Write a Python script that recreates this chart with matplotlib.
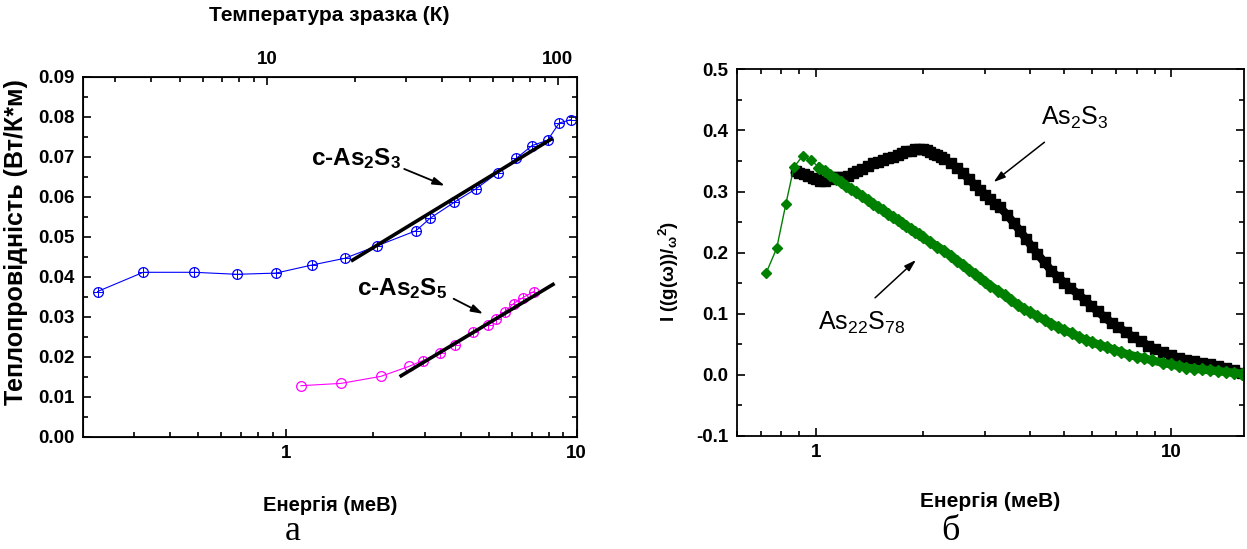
import numpy as np
import matplotlib.pyplot as plt
from matplotlib.ticker import FixedLocator, FormatStrFormatter, NullFormatter

# left panel: thermal conductivity vs energy (top axis = temperature)
e_as2s3 = [0.225, 0.323, 0.483, 0.679, 0.924, 1.225, 1.594, 2.057, 2.802, 3.13,
           3.79, 4.51, 5.36, 6.20, 7.03, 7.94, 8.70, 9.59]
k_as2s3 = [0.0363, 0.0411, 0.0411, 0.0406, 0.0409, 0.0429, 0.0446, 0.0477, 0.0515, 0.0546,
           0.0586, 0.0620, 0.0660, 0.0696, 0.0728, 0.0741, 0.0784, 0.0793]
e_as2s5 = [1.126, 1.547, 2.12, 2.65, 2.95, 3.40, 3.82, 4.41, 4.95, 5.29, 5.66, 6.07, 6.54, 7.12]
k_as2s5 = [0.01275, 0.01333, 0.01508, 0.01758, 0.0190, 0.0210, 0.0229, 0.0263, 0.0280,
           0.0295, 0.0313, 0.0333, 0.0348, 0.0363]
fit_as2s3_e = [1.674, 8.26]
fit_as2s3_k = [0.0439, 0.0746]
fit_as2s5_e = [2.46, 8.39]
fit_as2s5_k = [0.0150, 0.0383]
kB = 0.08617  # meV/K

# right panel: g(w)/w^2
e_blk = [0.88, 0.90, 0.93, 0.95, 0.98, 1.00, 1.03, 1.06, 1.09, 1.12, 1.15, 1.19, 1.23, 1.27,
         1.31, 1.35, 1.40, 1.45, 1.50, 1.55, 1.60, 1.65, 1.70, 1.75, 1.80, 1.85, 1.90, 1.95,
         2.00, 2.05, 2.10, 2.15, 2.20, 2.25, 2.30, 2.40, 2.50, 2.60, 2.70, 2.80, 2.90, 3.00,
         3.10, 3.20, 3.30, 3.45, 3.60, 3.75, 3.90, 4.05, 4.20, 4.40, 4.60, 4.80, 5.00, 5.20,
         5.45, 5.70, 5.95, 6.20, 6.50, 6.80, 7.10, 7.45, 7.80, 8.20, 8.60, 9.00, 9.50, 10.0,
         10.5, 11.0, 11.6, 12.2, 12.8, 13.5, 14.2, 15.0, 15.8]
g_blk = [0.333, 0.330, 0.328, 0.325, 0.322, 0.320, 0.318, 0.318, 0.321, 0.323, 0.324, 0.324,
         0.326, 0.330, 0.334, 0.337, 0.342, 0.346, 0.349, 0.352, 0.355, 0.357, 0.360, 0.363,
         0.366, 0.367, 0.369, 0.370, 0.369, 0.368, 0.365, 0.362, 0.359, 0.356, 0.353, 0.346,
         0.339, 0.330, 0.320, 0.311, 0.303, 0.295, 0.287, 0.280, 0.274, 0.262, 0.249, 0.236,
         0.223, 0.210, 0.198, 0.184, 0.170, 0.160, 0.151, 0.142, 0.133, 0.123, 0.113, 0.104,
         0.094, 0.085, 0.078, 0.070, 0.062, 0.055, 0.048, 0.043, 0.037, 0.032, 0.028, 0.025,
         0.022, 0.020, 0.018, 0.015, 0.012, 0.008, 0.003]
e_grn = [0.725, 0.777, 0.825, 0.869, 0.919, 0.968, 1.024, 1.06, 1.10, 1.14, 1.18, 1.22, 1.26,
         1.30, 1.35, 1.40, 1.45, 1.50, 1.55, 1.60, 1.65, 1.70, 1.75, 1.80, 1.85, 1.90, 1.95,
         2.00, 2.10, 2.20, 2.30, 2.40, 2.50, 2.60, 2.70, 2.80, 2.90, 3.00, 3.10, 3.25, 3.40,
         3.55, 3.70, 3.85, 4.00, 4.20, 4.40, 4.60, 4.80, 5.00, 5.25, 5.50, 5.75, 6.00, 6.30,
         6.60, 6.90, 7.20, 7.60, 8.00, 8.40, 8.80, 9.50, 10.0, 10.5, 11.0, 11.6, 12.2, 12.8,
         13.5, 14.2, 15.0, 15.8]
g_grn = [0.166, 0.207, 0.280, 0.340, 0.358, 0.352, 0.339, 0.333, 0.327, 0.321, 0.315, 0.309,
         0.304, 0.299, 0.292, 0.286, 0.280, 0.274, 0.269, 0.263, 0.258, 0.253, 0.248, 0.243,
         0.239, 0.234, 0.230, 0.225, 0.217, 0.210, 0.203, 0.195, 0.187, 0.180, 0.172, 0.165,
         0.159, 0.152, 0.146, 0.138, 0.130, 0.122, 0.115, 0.108, 0.103, 0.096, 0.090, 0.084,
         0.078, 0.073, 0.068, 0.062, 0.057, 0.053, 0.049, 0.045, 0.041, 0.037, 0.033, 0.030,
         0.027, 0.024, 0.0195, 0.017, 0.0145, 0.012, 0.010, 0.009, 0.0076, 0.0062, 0.0048,
         0.0034, 0.002]

plt.rcParams['font.family'] = ['Liberation Sans', 'DejaVu Sans']
plt.rcParams['font.weight'] = 'bold'
plt.rcParams['axes.labelweight'] = 'bold'
plt.rcParams['mathtext.fontset'] = 'custom'
plt.rcParams['mathtext.default'] = 'regular'
plt.rcParams['mathtext.rm'] = 'Liberation Sans:weight=normal'
plt.rcParams['mathtext.it'] = 'Liberation Sans:italic:weight=normal'
plt.rcParams['mathtext.bf'] = 'Liberation Sans:bold'

W, H = 1247, 549
fig = plt.figure(figsize=(W / 100, H / 100), dpi=100)
ax1 = fig.add_axes([82.7 / W, 1 - 436.7 / H, (576.7 - 82.7) / W, 360 / H])
ax2 = fig.add_axes([736.7 / W, 1 - 436 / H, (1244 - 736.7) / W, 366.7 / H])

tfont = 13.5
for ax in (ax1, ax2):
    for sp in ax.spines.values():
        sp.set_linewidth(1.3)
    ax.set_xscale('log')
    ax.tick_params(which='both', direction='in', right=True, width=1.2, labelsize=tfont)
    ax.tick_params(which='major', length=6, pad=6)
    ax.tick_params(which='minor', length=3.5)

# ---- left panel ----
ax1.plot(e_as2s3, k_as2s3, '-', color='blue', lw=0.8, marker='o', ms=7,
         mfc='none', mec='blue', mew=0.9)
ax1.plot(e_as2s3, k_as2s3, '+', color='blue', ms=7, mew=0.7)
ax1.plot(e_as2s5, k_as2s5, '-', color='magenta', lw=0.8, marker='o', ms=7,
         mfc='none', mec='magenta', mew=0.9)
ax1.plot(e_as2s5[4:], k_as2s5[4:], '+', color='magenta', ms=7, mew=0.7)
ax1.plot(fit_as2s3_e, fit_as2s3_k, '-', color='black', lw=2.6, solid_capstyle='butt')
ax1.plot(fit_as2s5_e, fit_as2s5_k, '-', color='black', lw=2.6, solid_capstyle='butt')

ax1.set_xlim(0.2, 10)
ax1.set_ylim(0, 0.09)
ax1.xaxis.set_major_locator(FixedLocator([1, 10]))
ax1.xaxis.set_minor_locator(FixedLocator([0.3, 0.4, 0.5, 0.6, 0.7, 0.8, 0.9,
                                          2, 3, 4, 5, 6, 7, 8, 9]))
ax1.xaxis.set_major_formatter(FormatStrFormatter('%d'))
ax1.xaxis.set_minor_formatter(NullFormatter())
ax1.yaxis.set_major_locator(FixedLocator(np.arange(0, 0.0901, 0.01)))
ax1.yaxis.set_minor_locator(FixedLocator(np.arange(0.005, 0.09, 0.01)))
ax1.yaxis.set_major_formatter(FormatStrFormatter('%.2f'))
ax1.set_xlabel('Енергія (меВ)', fontsize=14.5)
ax1.set_ylabel('Теплопровідність (Вт/К*м)', fontsize=18)
ax1.xaxis.set_label_coords(0.5, -0.165)
ax1.yaxis.set_label_coords(-0.111, 0.54)

top = ax1.twiny()
top.set_xscale('log')
top.set_xlim(0.2 / kB, 10 / kB)
top.xaxis.set_major_locator(FixedLocator([10, 100]))
top.xaxis.set_minor_locator(FixedLocator([3, 4, 5, 6, 7, 8, 9, 20, 30, 40, 50, 60, 70, 80, 90]))
top.xaxis.set_major_formatter(FormatStrFormatter('%d'))
top.xaxis.set_minor_formatter(NullFormatter())
top.tick_params(which='both', direction='in', width=1.2, labelsize=tfont)
top.tick_params(which='major', length=6, pad=6)
top.tick_params(which='minor', length=3.5)
top.set_xlabel('Температура зразка (К)', fontsize=15)
top.xaxis.set_label_coords(0.5, 1.155)

arr = dict(arrowstyle='-|>,head_length=0.7,head_width=0.22', color='black', lw=1.3)
ax1.text(1.22, 0.068, r'c-As$_\mathbf{2}$S$_\mathbf{3}$', fontsize=17.5, ha='left', va='baseline')
ax1.annotate('', xy=(3.59, 0.0625), xytext=(2.50, 0.0672), arrowprops=arr)
ax1.text(1.76, 0.0355, r'c-As$_\mathbf{2}$S$_\mathbf{5}$', fontsize=17.5, ha='left', va='baseline')
ax1.annotate('', xy=(4.86, 0.0304), xytext=(3.70, 0.0348), arrowprops=arr)

# ---- right panel ----
ax2.plot(e_blk, g_blk, '-', color='black', lw=6, marker='s', ms=6.5, mfc='black', mec='black')
ax2.plot(e_grn[:7], g_grn[:7], '-', color='#008000', lw=1, marker='D', ms=5.5,
         mfc='#008000', mec='#008000')
ax2.plot(e_grn[6:], g_grn[6:], '-', color='#008000', lw=6, marker='D', ms=6,
         mfc='#008000', mec='#008000')

ax2.set_xlim(0.6, 16)
ax2.set_ylim(-0.1, 0.5)
ax2.tick_params(which='both', top=True)
ax2.xaxis.set_major_locator(FixedLocator([1, 10]))
ax2.xaxis.set_minor_locator(FixedLocator([0.6, 0.7, 0.8, 0.9, 2, 3, 4, 5, 6, 7, 8, 9]))
ax2.xaxis.set_major_formatter(FormatStrFormatter('%d'))
ax2.xaxis.set_minor_formatter(NullFormatter())
ax2.yaxis.set_major_locator(FixedLocator(np.arange(-0.1, 0.501, 0.1)))
ax2.yaxis.set_minor_locator(FixedLocator(np.arange(-0.05, 0.5, 0.1)))
ax2.yaxis.set_major_formatter(FormatStrFormatter('%.1f'))
ax2.set_xlabel('Енергія (меВ)', fontsize=15)
ax2.set_ylabel(r'I ((g($\omega$))/$_\omega$$^2$)', fontsize=13.5)
ax2.xaxis.set_label_coords(0.5, -0.153)
ax2.yaxis.set_label_coords(-0.11, 0.45)

arr2 = dict(arrowstyle='-|>,head_length=0.7,head_width=0.22', color='black', lw=1.1)
ax2.text(4.31, 0.409, r'As$_2$S$_3$', fontsize=18, fontweight='normal', ha='left', va='baseline')
ax2.annotate('', xy=(3.12, 0.3126), xytext=(4.46, 0.3835), arrowprops=arr2)
ax2.text(1.015, 0.074, r'As$_{22}$S$_{78}$', fontsize=18, fontweight='normal', ha='left', va='baseline')
ax2.annotate('', xy=(1.94, 0.191), xytext=(1.45, 0.123), arrowprops=arr2)

# captions
fig.text(293 / W, 1 - 532 / H, 'а', family='Liberation Serif', fontsize=26,
         fontweight='normal', ha='center', va='center')
fig.text(950 / W, 1 - 531 / H, 'б', family='Liberation Serif', fontsize=26,
         fontweight='normal', ha='center', va='center')

fig.savefig('out.png', dpi=100)
